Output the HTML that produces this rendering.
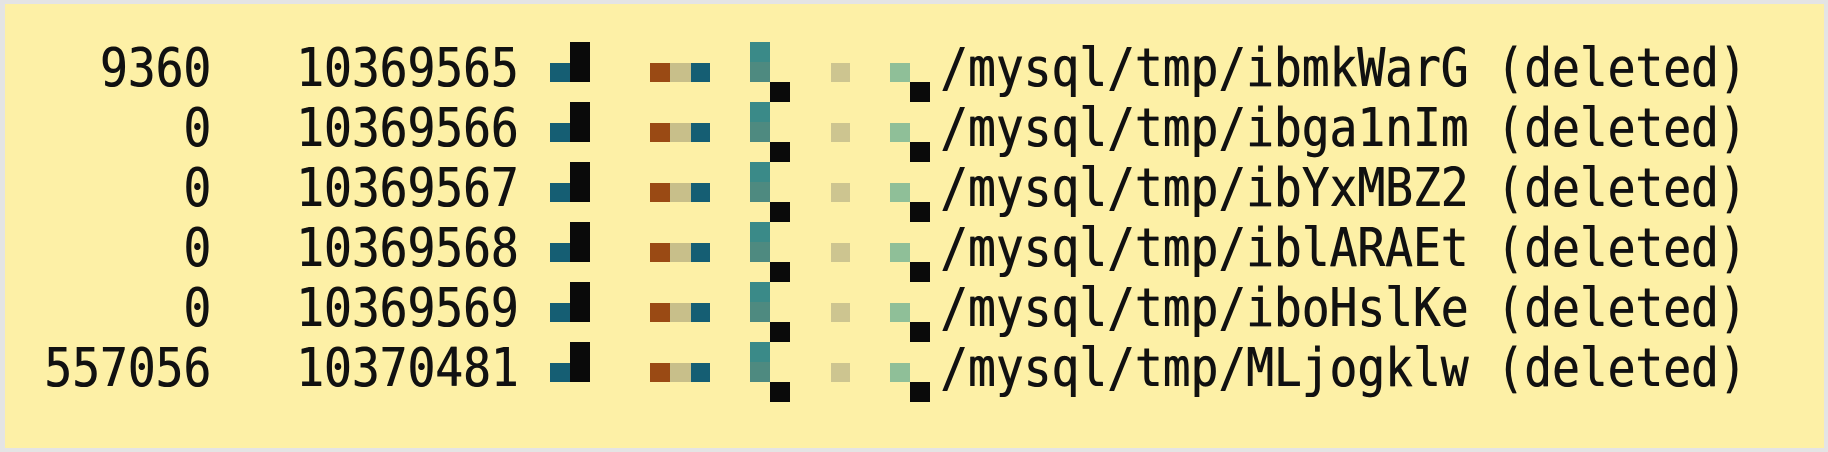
<!DOCTYPE html>
<html><head><style>
html,body{margin:0;padding:0;width:1828px;height:452px;background:#e4e4e4;overflow:hidden}
#box{position:absolute;left:5px;top:4px;width:1819px;height:444px;background:#fdf0a6}
.t{position:absolute;font-family:"DejaVu Sans Mono","Liberation Mono",monospace;font-size:46.2px;color:#111;white-space:pre;line-height:46px;transform:scaleY(1.16);transform-origin:0 0;text-shadow:0.6px 0 0 #111}
.r{text-align:right}
.b{position:absolute}
</style></head><body>
<div id="box"></div>
<div id="c"></div>
<script>
var rows=[["9360","10369565","/mysql/tmp/ibmkWarG (deleted)"],["0","10369566","/mysql/tmp/ibga1nIm (deleted)"],["0","10369567","/mysql/tmp/ibYxMBZ2 (deleted)"],["0","10369568","/mysql/tmp/iblARAEt (deleted)"],["0","10369569","/mysql/tmp/iboHslKe (deleted)"],["557056","10370481","/mysql/tmp/MLjogklw (deleted)"]];
var h="";
function blk(x,y,w,hh,c){h+='<div class="b" style="left:'+x+'px;top:'+y+'px;width:'+w+'px;height:'+hh+'px;background:'+c+'"></div>';}
rows.forEach(function(r,i){
 var y=41+i*60;
 h+='<div class="t r" style="left:0;width:211px;top:'+y+'px">'+r[0]+'</div>';
 h+='<div class="t" style="left:296px;top:'+y+'px">'+r[1]+'</div>';
 h+='<div class="t" style="left:940px;top:'+y+'px">'+r[2]+'</div>';
 var o=i*60;
 blk(550,63+o,20,19,"#155e73");
 blk(570,42+o,20,40,"#0a0a0a");
 blk(650,63+o,20,19,"#9a4a14");
 blk(670,63+o,21,19,"#c8bf8a");
 blk(691,63+o,19,19,"#155e73");
 blk(750,42+o,20,20,"#3a8a88");
 blk(750,62+o,20,20,"#4e8a80");
 blk(770,82+o,20,20,"#0a0a0a");
 blk(831,63+o,19,19,"#cdc590");
 blk(890,63+o,20,19,"#8fbf98");
 blk(910,82+o,20,20,"#0a0a0a");
});
document.getElementById("c").innerHTML=h;
</script>
</body></html>
